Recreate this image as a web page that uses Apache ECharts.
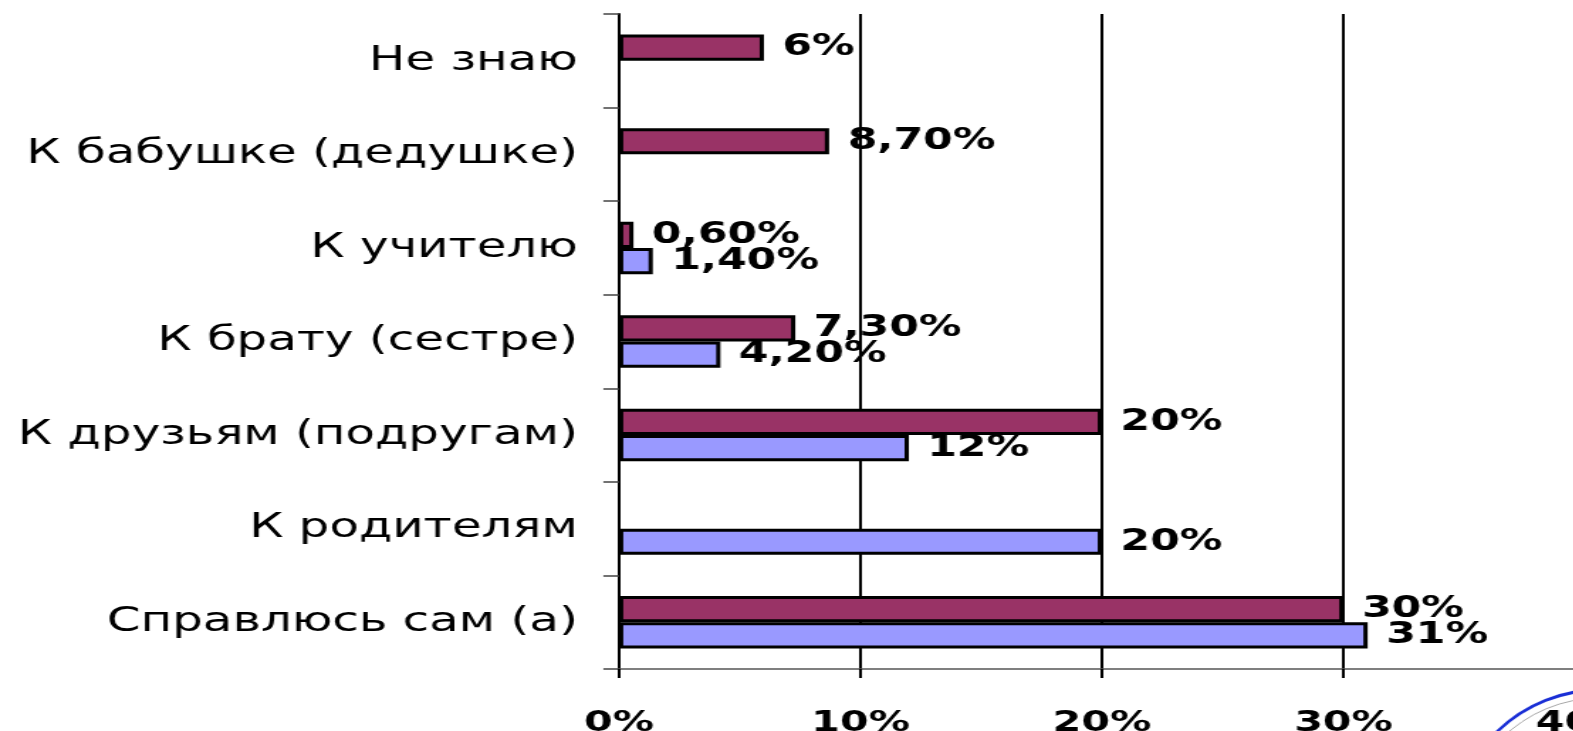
<!DOCTYPE html>
<head>
    <meta charset="utf-8">
    <title>К кому обращаются</title>
    <script src="https://cdn.jsdelivr.net/npm/echarts@6/dist/echarts.min.js"></script>
    <style>
        html, body { margin: 0; padding: 0; overflow: hidden; background: #fff; }
        /* картинка-оригинал растянута по горизонтали, повторяем это */
        #main {
            position: absolute; left: 0; top: 0;
            width: 1108px; height: 731px;
            transform: scaleX(1.42); transform-origin: 0 0;
        }
    </style>
</head>
<body>
<div id="main"></div>
<script type="text/javascript">
    // категории снизу вверх
    var categories = ['Справлюсь сам (а)', 'К родителям', 'К друзьям (подругам)',
        'К брату (сестре)', 'К учителю', 'К бабушке (дедушке)', 'Не знаю'];
    // верхний (бордовый) ряд
    var maroonValues = [30, null, 20, 7.3, 0.6, 8.7, 6];
    // нижний (сиреневый) ряд
    var blueValues = [31, 20, 12, 4.2, 1.4, null, null];
    // подписи оси X
    var xTicks = [0, 10, 20, 30, 40];

    var SX = 1.42;

    function pct(v) {
        return Number.isInteger(v) ? v + '%' : v.toFixed(2).replace('.', ',') + '%';
    }

    var barLabel = {
        show: true,
        position: 'right',
        distance: 13,
        color: '#000',
        fontFamily: 'DejaVu Sans',
        fontWeight: 'bold',
        fontSize: 30,
        formatter: function (p) { return pct(p.value); }
    };

    var myChart = echarts.init(document.getElementById('main'));
    var option = {
        animation: false,
        backgroundColor: '#fff',
        grid: {
            left: 619 / SX,
            width: 966 / SX,
            top: 14,
            bottom: 62,
            outerBoundsMode: 'none',
            containLabel: false
        },
        xAxis: {
            type: 'value',
            min: xTicks[0],
            max: xTicks[xTicks.length - 1],
            interval: 10,
            axisLine: { show: true, lineStyle: { color: '#555', width: 1.5 } },
            axisTick: { show: true, length: 9, lineStyle: { color: '#000', width: 2 } },
            splitLine: { show: true, lineStyle: { color: '#000', width: 2 } },
            axisLabel: {
                margin: 40,
                color: '#000',
                fontFamily: 'DejaVu Sans',
                fontWeight: 'bold',
                fontSize: 29,
                formatter: function (v) { return v + '%'; }
            }
        },
        yAxis: {
            type: 'category',
            data: categories,
            axisLine: { show: true, lineStyle: { color: '#000', width: 2 } },
            axisTick: { show: true, length: 11, lineStyle: { color: '#444', width: 1.5 } },
            axisLabel: {
                margin: 29,
                color: '#000',
                fontFamily: 'DejaVu Sans',
                fontSize: 34
            }
        },
        series: [
            {
                name: 'ряд 2',
                type: 'bar',
                data: maroonValues,
                barGap: '0%',
                barCategoryGap: '44%',
                itemStyle: { color: '#993366', borderColor: '#000', borderWidth: 3 },
                label: barLabel
            },
            {
                name: 'ряд 1',
                type: 'bar',
                data: blueValues,
                barGap: '0%',
                barCategoryGap: '44%',
                itemStyle: { color: '#9999ff', borderColor: '#000', borderWidth: 3 },
                label: barLabel
            }
        ],
        graphic: [
            {
                type: 'circle',
                x: 1600 / SX,
                y: 838,
                scaleX: 1 / SX,
                shape: { r: 148 },
                style: { fill: 'none', stroke: '#1a2fd6', lineWidth: 3 }
            },
            {
                type: 'circle',
                x: 1600 / SX,
                y: 838,
                scaleX: 1 / SX,
                shape: { r: 140 },
                style: { fill: 'none', stroke: '#999', lineWidth: 1 }
            }
        ]
    };
    myChart.setOption(option);
</script>
</body>
